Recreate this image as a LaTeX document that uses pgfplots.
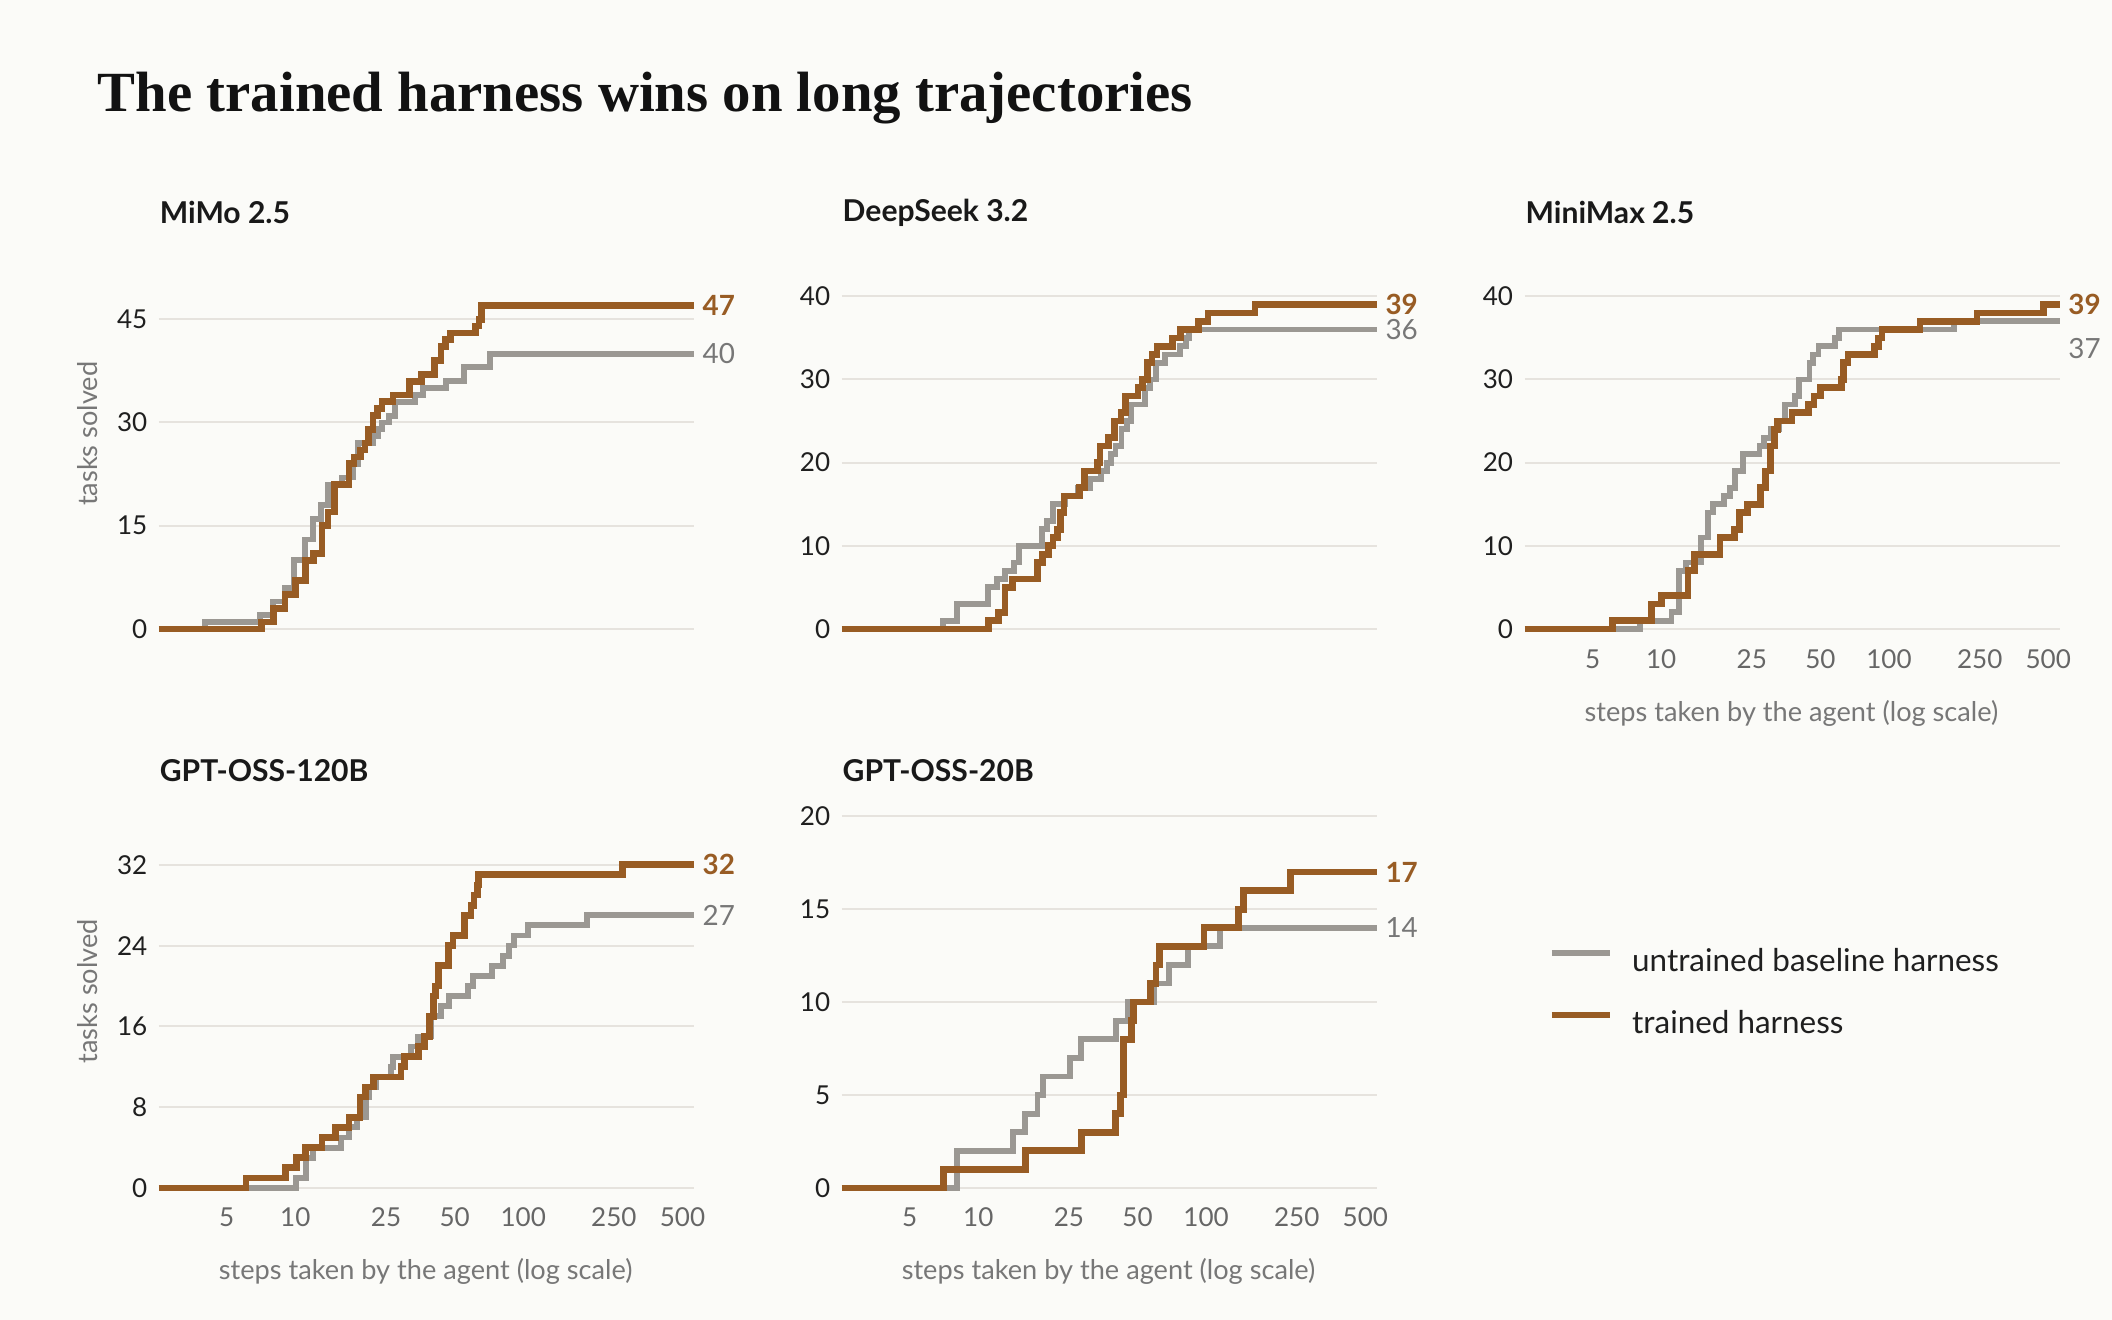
\documentclass[border=0pt]{standalone}
\usepackage{pgfplots}
\pgfplotsset{compat=1.18}
\usepackage{fontspec}
\setmainfont{Lato}
\newfontfamily\titlefont{Liberation Serif}
\definecolor{bg}{HTML}{FBFBF8}
\definecolor{orng}{HTML}{985C24}
\definecolor{gry}{HTML}{9B9893}
\definecolor{gridc}{HTML}{E6E3DE}
\definecolor{ticky}{HTML}{1F1F1F}
\definecolor{tickx}{HTML}{666666}
\definecolor{labc}{HTML}{777777}
\newcommand{\tickfont}{\fontsize{5.8}{7}\selectfont}
\newcommand{\labfont}{\fontsize{6.05}{7}\selectfont}
\newcommand{\valfont}{\fontsize{6.2}{7}\selectfont}
\pgfplotsset{
  mypanel/.style={
    scale only axis,
    width=119.1pt,
    xmin=2.52, xmax=560,
    clip=false,
    axis line style={draw=none},
    major tick style={draw=none},
    minor tick style={draw=none},
    xtick={5,10,25,50,100,250,500},
    minor xtick={},
    ymajorgrids,
    grid style={gridc, line width=0.45pt},
    xticklabel style={font=\tickfont, text=tickx, inner sep=0pt, yshift=-0.9pt},
    yticklabel style={font=\tickfont, text=ticky, inner sep=0pt, xshift=-2.4pt},
  },
  mybase/.style={const plot, gry, line width=1.3pt, line join=miter, no marks},
  mytrained/.style={const plot, orng, line width=1.5pt, line join=miter, no marks},
}
\begin{document}
\begin{tikzpicture}
\path[use as bounding box, fill=bg] (0,0) rectangle (470.4pt,294pt);
\node[anchor=base west, inner sep=0pt, font=\titlefont\bfseries\fontsize{12.65}{14}\selectfont, text=black!93] at (21.6pt,269.1pt) {The trained harness wins on long trajectories};

\node[anchor=west, inner sep=0pt, font=\bfseries\fontsize{6.7}{8}\selectfont, text=black!90] at (35.4pt,246.6pt) {MiMo 2.5};
\node[anchor=west, inner sep=0pt, font=\bfseries\fontsize{6.7}{8}\selectfont, text=black!90] at (187.5pt,246.6pt) {DeepSeek 3.2};
\node[anchor=west, inner sep=0pt, font=\bfseries\fontsize{6.7}{8}\selectfont, text=black!90] at (339.6pt,246.6pt) {MiniMax 2.5};
\node[anchor=west, inner sep=0pt, font=\bfseries\fontsize{6.7}{8}\selectfont, text=black!90] at (35.4pt,122.4pt) {GPT-OSS-120B};
\node[anchor=west, inner sep=0pt, font=\bfseries\fontsize{6.7}{8}\selectfont, text=black!90] at (187.5pt,122.4pt) {GPT-OSS-20B};

\node[rotate=90, font=\labfont, text=labc, inner sep=0pt] at (19.5pt,197.4pt) {tasks solved};
\node[rotate=90, font=\labfont, text=labc, inner sep=0pt] at (19.5pt,73.2pt) {tasks solved};
\node[font=\labfont, text=labc, inner sep=0pt] at (94.8pt,10.8pt) {steps taken by the agent (log scale)};
\node[font=\labfont, text=labc, inner sep=0pt] at (246.9pt,10.8pt) {steps taken by the agent (log scale)};
\node[font=\labfont, text=labc, inner sep=0pt] at (399pt,135pt) {steps taken by the agent (log scale)};

% MiMo 2.5
\begin{axis}[xmode=log, mypanel, height=79.5pt, xticklabels={}, at={(35.4pt,150.3pt)}, anchor=south west,
  ymin=-2.348, ymax=49.5, ytick={0,15,30,45}, yticklabels={0,15,30,45}]
\addplot[mybase] coordinates {(2.52,0) (4,1) (7,2) (8,4) (9,6) (9.9,10) (11,13) (12,16) (13,18) (13.9,21) (16,22) (17.9,24) (18.9,27) (21.9,28) (23,29) (24,30) (25.8,31) (27.4,33) (33.6,34) (36.3,35) (46,36) (55,38) (71.8,40) (560,40)};
\addplot[mytrained] coordinates {(2.52,0) (7.1,1) (8,3) (9,5) (10,7) (11.1,10) (12,11) (13.1,15) (13.9,17) (14.8,21) (17.2,24) (18.1,25) (19.3,26) (20.2,27) (21,29) (21.9,31) (22.9,32) (24,33) (26.8,34) (31.8,36) (35.9,37) (40.8,39) (43.6,41) (45.7,42) (47.8,43) (61.6,44) (63.9,45) (65.5,47) (560,47)};
\node[anchor=west, inner sep=0pt, xshift=1.8pt, font=\valfont\bfseries, text=orng] at (axis cs:560,47) {47};
\node[anchor=west, inner sep=0pt, xshift=1.8pt, font=\valfont, text=labc] at (axis cs:560,40) {40};
\end{axis}

% DeepSeek 3.2
\begin{axis}[xmode=log, mypanel, height=79.5pt, xticklabels={}, at={(187.5pt,150.3pt)}, anchor=south west,
  ymin=-1.943, ymax=40.97, ytick={0,10,20,30,40}, yticklabels={0,10,20,30,40}]
\addplot[mybase] coordinates {(2.52,0) (7,1) (8.05,3) (11,5) (12.1,6) (13.1,7) (14.3,8) (15.1,10) (19.1,12) (20.1,13) (21.3,15) (24,16) (27.5,17) (30.9,18) (34.6,19) (36.6,20) (38.3,21) (40,22) (42.5,24) (45,25) (46.9,27) (53.7,29) (56.9,30) (60.2,32) (65.8,33) (77,34) (81.7,35) (84.3,36) (560,36)};
\addplot[mytrained] coordinates {(2.52,0) (11.1,1) (12.3,2) (13.1,5) (14.1,6) (18.2,8) (19.2,9) (20.3,10) (21.3,11) (22.2,12) (23,14) (23.8,16) (27.9,17) (29.2,19) (33.4,20) (34.2,22) (37.4,23) (39.7,25) (42.3,26) (44.3,28) (50.2,29) (52.5,30) (55.4,32) (57.9,33) (60.9,34) (71,35) (77.1,36) (92.3,37) (102,38) (164,39) (560,39)};
\node[anchor=west, inner sep=0pt, xshift=1.8pt, font=\valfont\bfseries, text=orng] at (axis cs:560,39) {39};
\node[anchor=west, inner sep=0pt, xshift=1.8pt, font=\valfont, text=labc] at (axis cs:560,36) {36};
\end{axis}

% MiniMax 2.5
\begin{axis}[xmode=log, mypanel, height=79.5pt, xticklabels={5,10,25,50,100,250,500}, at={(339.6pt,150.3pt)}, anchor=south west,
  ymin=-1.943, ymax=40.97, ytick={0,10,20,30,40}, yticklabels={0,10,20,30,40}]
\addplot[mybase] coordinates {(2.52,0) (8.1,1) (11.1,2) (12,7) (12.9,8) (15,11) (16,14) (16.9,15) (18.9,16) (20.1,17) (21,19) (22.9,21) (27,22) (28.3,23) (30.3,24) (33,25) (35,27) (38.7,28) (40.4,30) (44.8,32) (46.2,33) (49,34) (57.8,35) (60.3,36) (193,37) (560,37)};
\addplot[mytrained] coordinates {(2.52,0) (6.1,1) (9.1,3) (10,4) (13.1,7) (14,9) (18.1,11) (21,12) (22.1,14) (23.9,15) (27.3,17) (28.7,19) (30.2,22) (31.4,24) (32.3,25) (37.5,26) (44.2,27) (46.8,28) (50.1,29) (61.7,30) (63.1,32) (66,33) (86.3,34) (90.2,35) (93.1,36) (136.7,37) (243,38) (476,39) (560,39)};
\node[anchor=west, inner sep=0pt, xshift=1.8pt, font=\valfont\bfseries, text=orng] at (axis cs:560,39) {39};
\node[anchor=west, inner sep=0pt, xshift=1.8pt, font=\valfont, text=labc] at (axis cs:560,33.7) {37};
\end{axis}

% GPT-OSS-120B
\begin{axis}[xmode=log, mypanel, height=88.5pt, xticklabels={5,10,25,50,100,250,500}, at={(35.4pt,26.1pt)}, anchor=south west,
  ymin=-1.467, ymax=37.87, ytick={0,8,16,24,32}, yticklabels={0,8,16,24,32}]
\addplot[mybase] coordinates {(2.52,0) (10.1,1) (11.1,3) (12,4) (15.9,5) (17.2,6) (18.6,7) (20.4,9) (21,10) (22.5,11) (26.4,12) (26.9,13) (32.3,14) (34.6,15) (39.3,17) (43.7,18) (47.1,19) (57.4,20) (60,21) (72.9,22) (81.6,23) (86.5,24) (91.3,25) (104.6,26) (190.8,27) (560,27)};
\addplot[mytrained] coordinates {(2.52,0) (6.08,1) (9.05,2) (10.1,3) (11.1,4) (13.1,5) (15,6) (17.2,7) (19.2,9) (20.3,10) (22,11) (29.1,12) (30.2,13) (34.6,14) (37,15) (38.9,17) (40.4,19) (41.3,20) (42.4,22) (47.1,24) (49.2,25) (55.1,27) (59,28) (60.9,29) (62.8,30) (63.6,31) (272,32) (560,32)};
\node[anchor=west, inner sep=0pt, xshift=1.8pt, font=\valfont\bfseries, text=orng] at (axis cs:560,32) {32};
\node[anchor=west, inner sep=0pt, xshift=1.8pt, font=\valfont, text=labc] at (axis cs:560,27) {27};
\end{axis}

% GPT-OSS-20B
\begin{axis}[xmode=log, mypanel, height=88.5pt, xticklabels={5,10,25,50,100,250,500}, at={(187.5pt,26.1pt)}, anchor=south west,
  ymin=-0.797, ymax=20.58, ytick={0,5,10,15,20}, yticklabels={0,5,10,15,20},
  legend style={at={(1.32,0.5255)}, anchor=west, draw=none, fill=none, inner sep=0pt,
    font=\fontsize{7.0}{8}\selectfont, row sep=7.1pt, nodes={inner sep=0pt, text=ticky}},
  legend cell align=left,
  legend image code/.code={\draw[#1, line cap=butt] (0pt,2.2pt) -- (12.9pt,2.2pt); \path (17.1pt,0pt);}]
\addplot[mybase] coordinates {(2.52,0) (8.05,2) (14.2,3) (16.1,4) (18.2,5) (19.2,6) (25.2,7) (28.2,8) (40.1,9) (45.3,10) (59.4,11) (69,12) (83.4,13) (115,14) (560,14)};
\addlegendentry{untrained baseline harness}
\addplot[mytrained] coordinates {(2.52,0) (7.03,1) (16.1,2) (28.3,3) (40.1,4) (42,5) (43.3,8) (46.9,9) (48.1,10) (56.8,11) (60.2,12) (62.5,13) (97.8,14) (139,15) (145.5,16) (234,17) (560,17)};
\addlegendentry{trained harness}
\node[anchor=west, inner sep=0pt, xshift=1.8pt, font=\valfont\bfseries, text=orng] at (axis cs:560,17) {17};
\node[anchor=west, inner sep=0pt, xshift=1.8pt, font=\valfont, text=labc] at (axis cs:560,14) {14};
\end{axis}
\end{tikzpicture}
\end{document}
